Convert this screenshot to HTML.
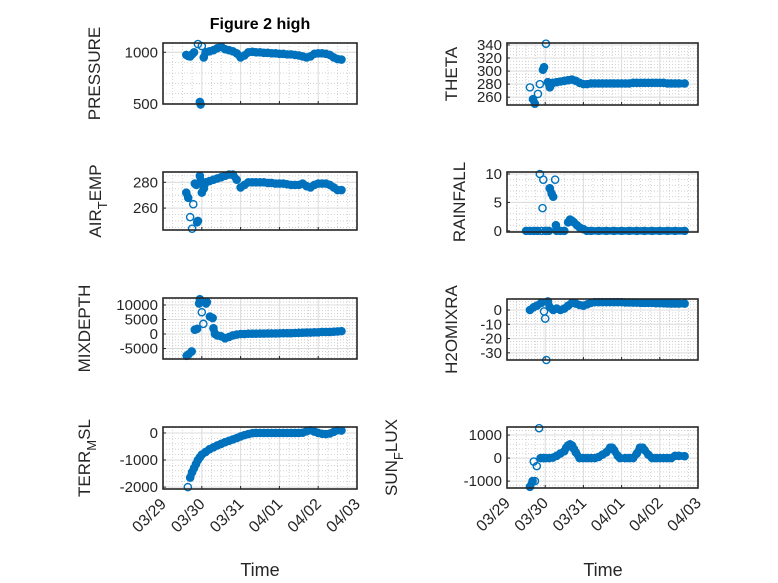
<!DOCTYPE html>
<html><head><meta charset="utf-8">
<style>
html,body{margin:0;padding:0;background:#fff;}
svg{display:block;font-family:"Liberation Sans","DejaVu Sans",sans-serif;}
</style></head>
<body>
<svg id="fig" width="778" height="583" viewBox="0 0 778 583" xmlns="http://www.w3.org/2000/svg">
<rect width="778" height="583" fill="#fff"/>
<text x="260" y="29" text-anchor="middle" font-size="16" font-weight="bold" fill="#000">Figure 2 high</text>
<text x="260" y="576" text-anchor="middle" font-size="18" fill="#262626">Time</text>
<text x="603" y="576" text-anchor="middle" font-size="18" fill="#262626">Time</text>
</svg>
<script>
// ---- data (time in days since 03/29 00:00) ----
const xTickLabels = ["03/29","03/30","03/31","04/01","04/02","04/03"];

const pressureT = [0.6,0.65,0.7,0.75,0.8,0.9,0.95,0.97,1.0,1.05,1.1,1.2,1.3,1.4,1.5,1.6,1.7,1.8,1.9,2.0,2.1,2.2,2.3,2.4,2.5,2.6,2.7,2.8,2.9,3.0,3.1,3.2,3.3,3.4,3.5,3.6,3.7,3.8,3.9,4.0,4.1,4.2,4.3,4.4,4.5,4.6];
const pressureV = [975,965,960,980,1000,1080,520,495,1060,950,1000,1010,1020,1040,1055,1030,1020,1010,990,950,970,1000,1005,1000,1000,995,995,990,990,985,985,980,980,975,970,960,950,960,985,990,990,985,975,950,935,930];

const airTempT = [0.6,0.65,0.7,0.75,0.78,0.82,0.86,0.88,0.9,0.95,0.98,1.0,1.05,1.1,1.2,1.3,1.4,1.5,1.6,1.7,1.8,1.9,2.0,2.1,2.2,2.3,2.4,2.5,2.6,2.7,2.8,2.9,3.0,3.1,3.2,3.3,3.4,3.5,3.6,3.7,3.8,3.9,4.0,4.1,4.2,4.3,4.4,4.5,4.6];
const airTempV = [272,268,253,244,263,279,278,249,250,285,280,272,275,280,281,282,283,284,285,286,286,282,276,278,280,280,280,280,280,279.5,279.5,279,279,279,278.5,278,278,278,279,277,276,278,279,279,279,278,276,274,274];

const mixDepthT = [0.61,0.66,0.74,0.82,0.88,0.93,0.95,1.0,1.04,1.11,1.13,1.21,1.28,1.3,1.34,1.4,1.5,1.6,1.7,1.8,1.9,2.0,2.1,2.2,2.3,2.4,2.5,2.6,2.7,2.8,2.9,3.0,3.1,3.2,3.3,3.4,3.5,3.6,3.7,3.8,3.9,4.0,4.1,4.2,4.3,4.4,4.5,4.6];
const mixDepthV = [-7500,-7000,-6000,1500,1800,10500,12000,7500,3500,10500,11000,6000,5500,2000,0,-500,-800,-1500,-1000,-500,-200,0,0,100,100,100,150,150,200,200,200,250,300,300,300,350,400,450,500,500,600,600,700,700,700,800,900,1000];

const terrMslT = [0.64,0.7,0.75,0.8,0.85,0.9,0.95,1.0,1.1,1.2,1.3,1.4,1.5,1.6,1.7,1.8,1.9,2.0,2.1,2.2,2.3,2.4,2.5,2.6,2.7,2.8,2.9,3.0,3.1,3.2,3.3,3.4,3.5,3.6,3.7,3.8,3.9,4.0,4.1,4.2,4.3,4.4,4.5,4.6];
const terrMslV = [-2000,-1650,-1450,-1300,-1150,-1000,-900,-800,-700,-600,-530,-460,-400,-340,-290,-240,-190,-130,-80,-40,-10,0,0,0,0,0,0,0,0,0,0,0,0,10,60,100,50,0,-30,-40,-20,40,100,90];

const thetaT = [0.6,0.68,0.73,0.81,0.86,0.94,0.97,1.02,1.07,1.12,1.2,1.3,1.4,1.5,1.6,1.7,1.8,1.9,2.0,2.1,2.2,2.3,2.4,2.5,2.6,2.7,2.8,2.9,3.0,3.1,3.2,3.3,3.4,3.5,3.6,3.7,3.8,3.9,4.0,4.1,4.2,4.3,4.4,4.5,4.65];
const thetaV = [275,257,250,265,280,302,306,342,283,275,282,283,284,285,286,287,285,282,280,280,281,281,281,281,281,281,281,281,281,281,281,282,282,282,282,282,282,282,282,282,281,281,281,281,281];

const rainfallT = [0.5,0.6,0.7,0.8,0.86,0.9,0.93,0.95,1.0,1.05,1.1,1.12,1.17,1.21,1.26,1.28,1.3,1.4,1.5,1.6,1.65,1.7,1.75,1.83,1.9,2.0,2.09,2.2,2.4,2.6,2.8,3.0,3.2,3.4,3.6,3.8,4.0,4.2,4.4,4.65];
const rainfallV = [0,0,0,0,10,0,4,9,0,0,0,7.5,6.5,6,9,1,0,0,0,1.5,2,1.8,1.5,1,0.6,0.3,0,0,0,0,0,0,0,0,0,0,0,0,0,0];

const h2oMixT = [0.6,0.7,0.78,0.9,0.97,1.0,1.03,1.07,1.12,1.21,1.3,1.4,1.5,1.6,1.7,1.8,1.9,2.0,2.1,2.2,2.3,2.4,2.5,2.6,2.7,2.8,2.9,3.0,3.1,3.2,3.3,3.4,3.5,3.6,3.7,3.8,3.9,4.0,4.1,4.2,4.3,4.4,4.5,4.65];
const h2oMixV = [0,2,3,5,-1,-6,-35,6,2,0,1,0,1,3,5,4.5,3.5,3,4,5,5.5,5.5,5.5,5.5,5.5,5.5,5.5,5.5,5.3,5.3,5.2,5.2,5,5,5,5,4.8,4.8,4.7,4.6,4.5,4.5,4.5,4.5];

const sunFluxT = [0.6,0.67,0.7,0.73,0.78,0.84,0.88,0.95,1.0,1.1,1.2,1.3,1.4,1.5,1.55,1.6,1.65,1.7,1.75,1.8,1.9,2.0,2.1,2.2,2.3,2.4,2.5,2.6,2.7,2.75,2.8,2.9,2.96,3.1,3.2,3.3,3.4,3.48,3.55,3.6,3.7,3.8,3.9,4.0,4.1,4.2,4.3,4.4,4.5,4.65];
const sunFluxV = [-1250,-1000,-150,-1000,-350,1300,0,0,0,0,20,100,200,300,450,550,600,550,400,250,0,0,0,0,0,50,150,250,450,450,350,100,0,0,0,0,200,450,450,350,150,0,0,0,0,0,0,100,100,80];

// ---- layout ----
const panels = [
 {name:"pressure", t:pressureT, v:pressureV, L:163, R:357, T:43, B:104, y0:500, y1:1090, ticks:[500,1000], tl:["500","1000"], minor:100, label:["PRESSURE"], lx:100},
 {name:"air-temp", t:airTempT, v:airTempV, L:163, R:357, T:172, B:230, y0:243, y1:288, ticks:[260,280], tl:["260","280"], minor:5, label:["AIR","T","EMP"], lx:101},
 {name:"mixdepth", t:mixDepthT, v:mixDepthV, L:163, R:357, T:298, B:359, y0:-8600, y1:12400, ticks:[-5000,0,5000,10000], tl:["-5000","0","5000","10000"], minor:1000, label:["MIXDEPTH"], lx:90},
 {name:"terr-msl", t:terrMslT, v:terrMslV, L:163, R:357, T:427, B:489, y0:-2070, y1:220, ticks:[-2000,-1000,0], tl:["-2000","-1000","0"], minor:200, label:["TERR","M","SL"], lx:90, xlab:true},
 {name:"theta", t:thetaT, v:thetaV, L:507, R:698, T:43, B:105, y0:248, y1:343, ticks:[260,280,300,320,340], tl:["260","280","300","320","340"], minor:5, label:["THETA"], lx:457},
 {name:"rainfall", t:rainfallT, v:rainfallV, L:507, R:698, T:172, B:232, y0:-0.2, y1:10.35, ticks:[0,5,10], tl:["0","5","10"], minor:1, label:["RAINFALL"], lx:465},
 {name:"h2omixra", t:h2oMixT, v:h2oMixV, L:507, R:698, T:299, B:360, y0:-35, y1:7.7, ticks:[-30,-20,-10,0], tl:["-30","-20","-10","0"], minor:2, label:["H2OMIXRA"], lx:457},
 {name:"sun-flux", t:sunFluxT, v:sunFluxV, L:507, R:698, T:427, B:488, y0:-1300, y1:1350, ticks:[-1000,0,1000], tl:["-1000","0","1000"], minor:200, label:["SUN","F","LUX"], lx:397, xlab:true}
];
const NS="http://www.w3.org/2000/svg";
const svg=document.getElementById("fig");
function mk(tag,attrs,parent){const e=document.createElementNS(NS,tag);for(const k in attrs)e.setAttribute(k,attrs[k]);(parent||svg).appendChild(e);return e;}

panels.forEach(p=>{
  const g=mk("g",{});
  
  
  const xs=t=>p.L+(p.R-p.L)*t/5;
  const ys=v=>p.B-(p.B-p.T)*(v-p.y0)/(p.y1-p.y0);
  for(let d=0.25; d<5; d+=0.25){ if(Math.abs(d-Math.round(d))<1e-6) continue;
    const l=mk("line",{x1:xs(d),x2:xs(d),y1:p.T,y2:p.B,stroke:"#c8c8c8","stroke-width":0.8,"stroke-dasharray":"1,2"},g);
    
    }
  for(let v=Math.ceil(p.y0/p.minor)*p.minor; v<p.y1; v+=p.minor){
    const l=mk("line",{x1:p.L,x2:p.R,y1:ys(v),y2:ys(v),stroke:"#c8c8c8","stroke-width":0.8,"stroke-dasharray":"1,2"},g);
    
    }
  for(let d=1; d<5; d++){
    const l=mk("line",{x1:xs(d),x2:xs(d),y1:p.T,y2:p.B,stroke:"#dcdcdc","stroke-width":1},g);
    
    }
  p.ticks.forEach((v,i)=>{
    const l=mk("line",{x1:p.L,x2:p.R,y1:ys(v),y2:ys(v),stroke:"#dcdcdc","stroke-width":1},g);
    
    
    const tk=mk("line",{x1:p.L,x2:p.L+3,y1:ys(v),y2:ys(v),stroke:"#262626","stroke-width":1},g);
    
    
    const tx=mk("text",{x:p.L-5,y:ys(v)+5,"text-anchor":"end","font-size":15,fill:"#262626"},g);
    tx.textContent=p.tl[i];
    
    
  });
  xTickLabels.forEach((lab,i)=>{
    const tk=mk("line",{x1:xs(i),x2:xs(i),y1:p.B,y2:p.B-3,stroke:"#262626","stroke-width":1},g);
    
    
    if(p.xlab){
      const ax=xs(i)+4, ay=p.B+16;
      const tx=mk("text",{x:ax,y:ay,"text-anchor":"end","font-size":16,fill:"#262626",transform:`rotate(-45 ${ax} ${ay})`},g);
      tx.textContent=lab;
      
      
    }
  });
  // dense band: connect consecutive samples that are close in time and value
  let d="";
  for(let i=1;i<p.t.length;i++){
    const x0=xs(p.t[i-1]),y0=ys(p.v[i-1]),x1=xs(p.t[i]),y1=ys(p.v[i]);
    if(p.t[i]-p.t[i-1]<=0.26 && Math.abs(y1-y0)<7){ d+=`M${x0},${y0}L${x1},${y1}`; }
  }
  const band=mk("path",{d:d,fill:"none",stroke:"#0072BD","stroke-width":7.5,"stroke-linecap":"round","stroke-linejoin":"round"},g);
  
  
  p.t.forEach((t,i)=>{
    const c=mk("circle",{cx:xs(t),cy:ys(p.v[i]),r:3.6,fill:"none",stroke:"#0072BD","stroke-width":1.4},g);
    
    
  });
  const b=mk("rect",{x:p.L,y:p.T,width:p.R-p.L,height:p.B-p.T,fill:"none",stroke:"#262626","stroke-width":1.6},g);
  
  
  const cy=(p.T+p.B)/2;
  const yl=mk("text",{x:p.lx,y:cy,"text-anchor":"middle","font-size":17,fill:"#262626",transform:`rotate(-90 ${p.lx} ${cy})`},g);
  
  
  if(p.label.length===1){yl.textContent=p.label[0];}
  else{
    const a=mk("tspan",{},yl);a.textContent=p.label[0];
    const s=mk("tspan",{"font-size":13,dy:6},yl);s.textContent=p.label[1];
    const c2=mk("tspan",{dy:-6},yl);c2.textContent=p.label[2];
  }
});
</script>
</body></html>
